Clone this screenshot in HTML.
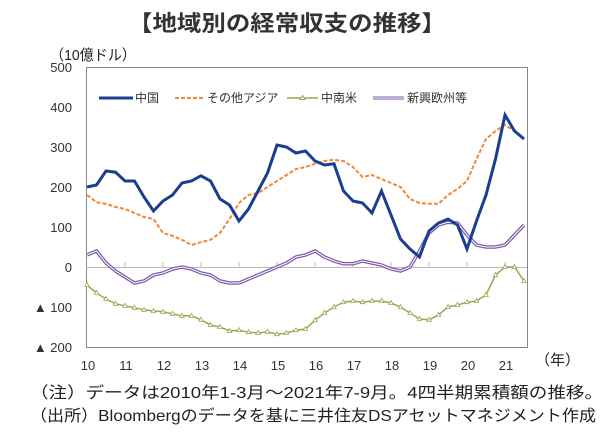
<!DOCTYPE html>
<html><head><meta charset="utf-8"><style>
body{margin:0;background:#fff;width:605px;height:431px;overflow:hidden}
text{font-family:"Liberation Sans","Noto Sans CJK JP",sans-serif}
</style></head><body>
<svg width="605" height="431" xmlns="http://www.w3.org/2000/svg">
<text x="128" y="31" font-size="22" font-weight="bold" fill="#333" textLength="318" lengthAdjust="spacingAndGlyphs">【地域別の経常収支の推移】</text>
<text x="50" y="60" font-size="15" fill="#222" textLength="86" lengthAdjust="spacingAndGlyphs">（10億ドル）</text>
<rect x="86.5" y="67.5" width="441" height="280" fill="none" stroke="#888"/>
<line x1="86" y1="267.5" x2="527" y2="267.5" stroke="#bbb"/>
<g stroke="#bbb">
<path d="M125 267v-5M163 267v-5M201 267v-5M239 267v-5M277 267v-5M315 267v-5M353 267v-5M391 267v-5M429 267v-5M467 267v-5M505 267v-5"/>
</g>
<g font-size="13" fill="#333" text-anchor="end">
<text x="72" y="72">500</text><text x="72" y="112">400</text><text x="72" y="152">300</text><text x="72" y="192">200</text><text x="72" y="232">100</text><text x="72" y="272">0</text><text x="72" y="312">▲ 100</text><text x="72" y="352">▲ 200</text>
</g>
<g font-size="13" fill="#333" text-anchor="middle">
<text x="88" y="370">10</text><text x="126" y="370">11</text><text x="164" y="370">12</text><text x="202" y="370">13</text><text x="240" y="370">14</text><text x="278" y="370">15</text><text x="316" y="370">16</text><text x="354" y="370">17</text><text x="392" y="370">18</text><text x="430" y="370">19</text><text x="468" y="370">20</text><text x="506" y="370">21</text>
</g>
<text x="535" y="365" font-size="15" fill="#222">（年）</text>
<g id="lines"></g>
<g font-size="12" fill="#333">
<line x1="99" y1="98" x2="133" y2="98" stroke="#1a3f8f" stroke-width="3"/><text x="135" y="102">中国</text>
<line x1="175" y1="98" x2="205" y2="98" stroke="#f0883a" stroke-width="2" stroke-dasharray="4,2"/><text x="207" y="102">その他アジア</text>
<line x1="287" y1="98" x2="318" y2="98" stroke="#8fae55" stroke-width="1.5"/><path d="M302.5 95.5l2.5 4h-5z" fill="#fff" stroke="#8fae55"/><text x="321" y="102">中南米</text>
<line x1="373" y1="98" x2="404" y2="98" stroke="#7d5ba8" stroke-width="3"/><line x1="373" y1="98" x2="404" y2="98" stroke="#fff" stroke-width="1"/><text x="407" y="102">新興欧州等</text>
</g>
<text x="30" y="398" font-size="16" fill="#222" textLength="573" lengthAdjust="spacingAndGlyphs">（注）データは2010年1-3月～2021年7-9月。4四半期累積額の推移。</text>
<text x="30" y="421" font-size="16" fill="#222" textLength="566" lengthAdjust="spacingAndGlyphs">（出所）Bloombergのデータを基に三井住友DSアセットマネジメント作成</text>
</svg>
<script>
function xy(a){return a.map((v,i)=>[87+i*437/(a.length-1),267-v*0.4]);}
function pts(a){return xy(a).map(p=>p[0].toFixed(1)+','+p[1].toFixed(1)).join(' ');}
const china=[200,205,240,237,215,215,175,140,165,180,210,215,228,215,170,155,115,145,190,235,305,300,285,290,265,255,258,190,165,160,135,190,130,70,45,25,90,110,120,105,45,115,180,270,380,340,320];
const asia=[180,162,158,150,145,135,125,120,85,78,68,55,62,68,85,120,160,180,185,200,215,230,245,250,258,265,268,265,250,225,230,220,210,200,170,160,158,158,180,195,215,270,320,340,355,340,320];
const latam=[-45,-65,-80,-92,-97,-102,-107,-110,-112,-117,-122,-122,-132,-145,-150,-160,-158,-163,-165,-162,-168,-165,-158,-155,-133,-115,-100,-88,-85,-88,-85,-85,-90,-100,-115,-130,-132,-120,-100,-95,-88,-85,-70,-20,0,0,-35];
const eu=[30,40,10,-10,-25,-40,-35,-20,-15,-5,0,-5,-15,-20,-35,-40,-40,-30,-20,-10,0,10,25,30,40,25,15,8,8,15,10,5,-5,-10,0,40,85,105,112,110,80,55,50,50,55,80,105];
let s='';
s+=`<polyline points="${pts(eu)}" fill="none" stroke="#7d5ba8" stroke-width="3.5"/><polyline points="${pts(eu)}" fill="none" stroke="#fff" stroke-width="1"/>`;
s+=`<polyline points="${pts(latam)}" fill="none" stroke="#8fae55" stroke-width="1.5"/>`;
xy(latam).forEach(p=>{s+=`<path d="M${p[0].toFixed(1)} ${(p[1]-2.5).toFixed(1)}l2.2 4h-4.4z" fill="#fff" stroke="#8fae55" stroke-width="0.8"/>`;});
s+=`<polyline points="${pts(asia)}" fill="none" stroke="#f0883a" stroke-width="2" stroke-dasharray="4,2"/>`;
s+=`<polyline points="${pts(china)}" fill="none" stroke="#1a3f8f" stroke-width="3"/>`;
document.getElementById('lines').innerHTML=s;
</script>
</body></html>
